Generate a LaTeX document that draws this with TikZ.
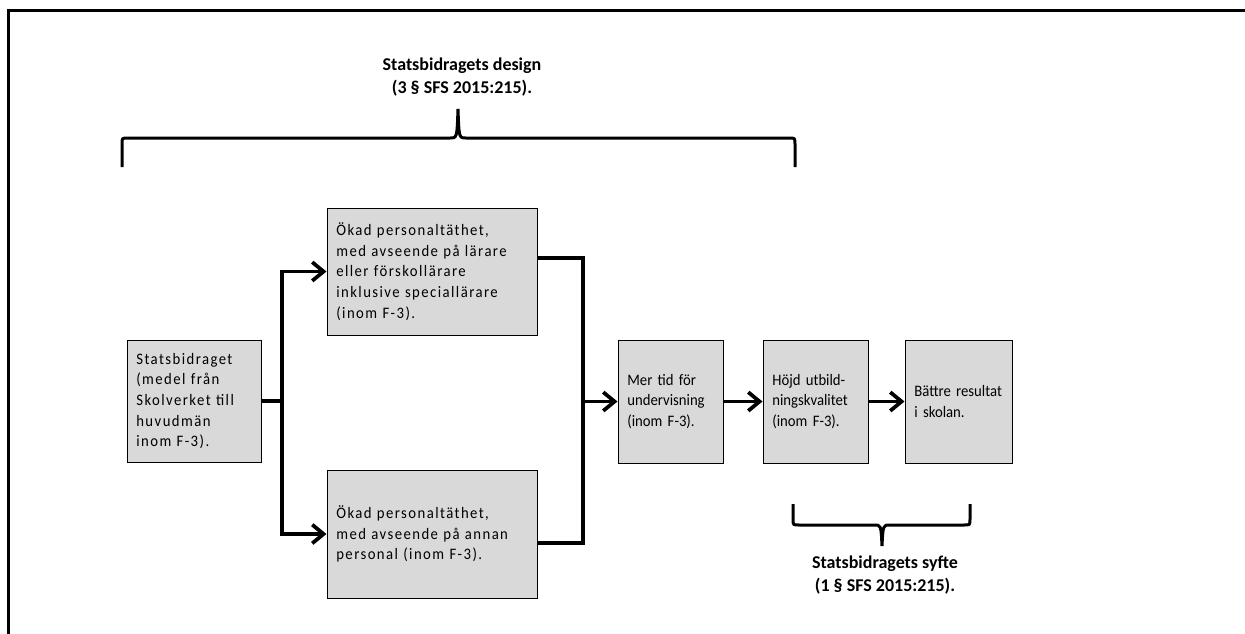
\documentclass[tikz,border=0pt]{standalone}
\usepackage{fontspec}
\setmainfont{Carlito}
\newfontfamily\narrow[FakeStretch=0.92]{Carlito}
\newfontfamily\spaced[FakeStretch=0.92,LetterSpace=9]{Carlito}
\usetikzlibrary{arrows.meta,positioning}
\definecolor{boxgray}{HTML}{D9D9D9}

\begin{document}
\begin{tikzpicture}[x=0.75pt,y=-0.75pt,
  box/.style={draw, fill=boxgray, line width=0.75pt, inner xsep=7pt, align=left, font=\narrow\fontsize{12}{15.5}\selectfont},
  widebox/.style={box, font=\spaced\fontsize{12}{15.5}\selectfont},
  link/.style={line width=2.8pt},
  flow/.style={link, -{Straight Barb[length=8.5pt,width=14pt]}},
  brace/.style={line width=2.25pt},
  lbl/.style={align=center, font=\bfseries\fontsize{13.5}{17.25}\selectfont}]
\useasboundingbox (0,0) rectangle (1245,633);
\draw[brace] (8,640) -- (8,10) -- (1250,10);

\node[widebox, text width=86.5pt, minimum height=91.5pt] (src) at (194,401) {Statsbidraget\\(medel från\\Skolverket till\\huvudmän\\inom F-3).};
\node[widebox, text width=143.5pt, minimum height=95.25pt] (teach) at (432,271.5) {Ökad personaltäthet,\\med avseende på lärare\\eller förskollärare\\inklusive speciallärare\\(inom F-3).};
\node[widebox, text width=143.5pt, minimum height=96pt] (staff) at (432,534) {Ökad personaltäthet,\\med avseende på annan\\personal (inom F-3).};
\node[box, text width=64.75pt, minimum height=92.25pt] (time) at (670.5,401.5) {Mer tid för\\undervisning\\(inom F-3).};
\node[box, text width=64.75pt, minimum height=92.25pt] (qual) [right=29.25pt of time] {Höjd utbild-\\ningskvalitet\\(inom F-3).};
\node[box, text width=66.25pt, minimum height=92.25pt] (res) [right=27pt of qual] {Bättre resultat\\i skolan.};

\coordinate (split) at (282,401);
\coordinate (merge) at (583,401.5);
\draw[link] (src.east) -- (split);
\draw[flow] (split) |- (teach.west);
\draw[flow] (split) |- (staff.west);
\draw[link] ([yshift=10pt]teach.east) -| (merge) |- ([yshift=-6.75pt]staff.east);
\draw[flow] (merge) -- (time.west);
\draw[flow] (time) -- (qual);
\draw[flow] (qual) -- (res);

\draw[brace] (122,167) -- (122,144) .. controls (122,138) .. (128,138) -- (450,138)
  .. controls (457,138) .. (458,109) .. controls (459,138) .. (466,138) -- (789,138)
  .. controls (795,138) .. (795,144) -- (795,167);
\node[lbl] (design) at (462,77.5) {Statsbidragets design\\(3 § SFS 2015:215).};

\draw[brace] (793,504) -- (793,519) .. controls (793,525) .. (799,525) -- (874,525)
  .. controls (881,525) .. (882,546) .. controls (883,525) .. (890,525) -- (964,525)
  .. controls (970,525) .. (970,519) -- (970,504);
\node[lbl] (purpose) at (885,575.5) {Statsbidragets syfte\\(1 § SFS 2015:215).};
\end{tikzpicture}
\end{document}
